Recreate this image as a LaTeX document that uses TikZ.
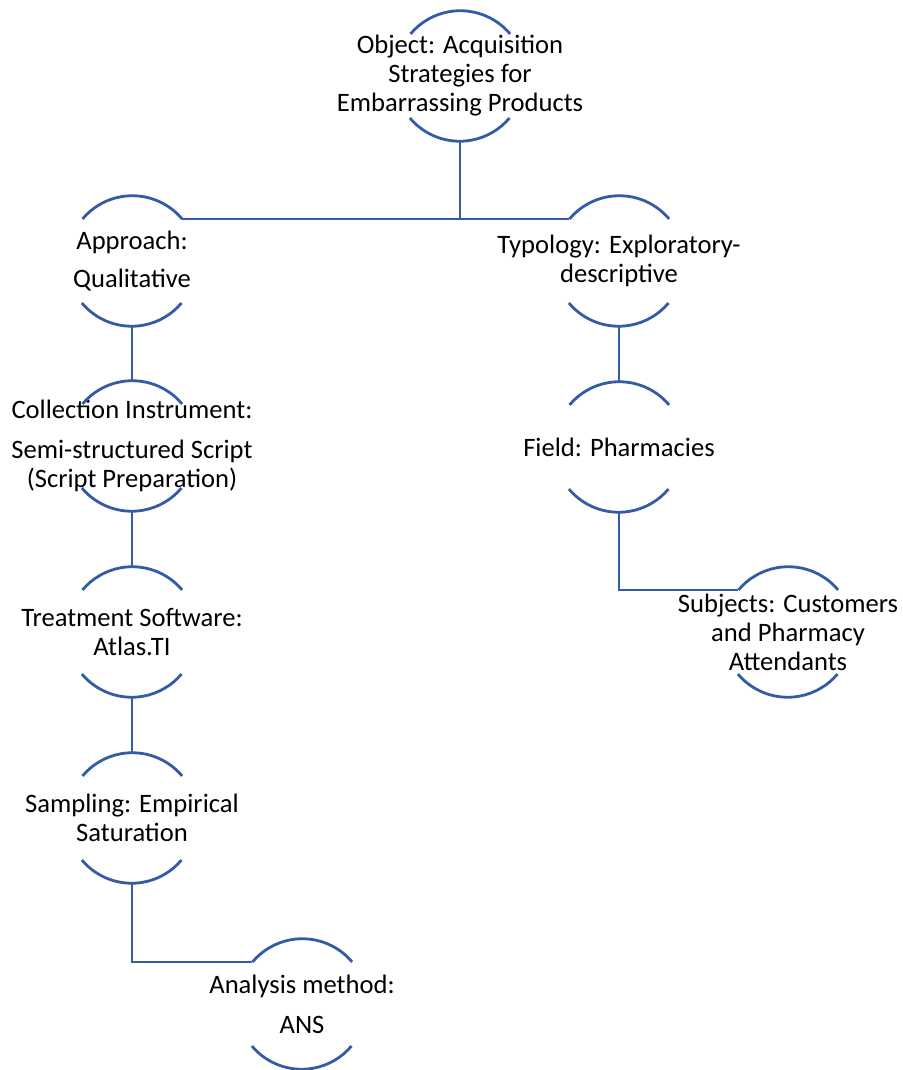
\documentclass[tikz,border=0pt]{standalone}
\usepackage{fontspec}
\setmainfont{Carlito}
\definecolor{linecolor}{RGB}{52,92,165}

\begin{document}
\begin{tikzpicture}[x=0.5pt,y=0.5pt,
  stage/.style={circle, minimum size=65pt, inner sep=0pt},
  stagetext/.style={align=center, inner sep=0pt, font=\fontsize{13.3pt}{14.5pt}\selectfont},
  link/.style={line width=1.4pt, linecolor}]
  \useasboundingbox (0,0) rectangle (902,1070);

  % Stage circles (only their arcs are drawn)
  \node[stage] (obj) at (460,994) {};
  \node[stage] (appr) at (132,809) {};
  \node[stage] (typo) at (619,809) {};
  \node[stage] (coll) at (132,624) {};
  \node[stage] (field) at (619,623) {};
  \node[stage] (treat) at (132,438) {};
  \node[stage] (subj) at (788,438) {};
  \node[stage] (samp) at (132,252) {};
  \node[stage] (anal) at (302,66) {};

  % Stage texts
  \node[stagetext] (objtext) at (obj) {Object: Acquisition\\Strategies for\\Embarrassing Products};
  \node[stagetext] (apprtext) at (appr) {Approach:\\[4.5pt]Qualitative};
  \node[stagetext] (typotext) at (typo) {Typology: Exploratory-\\descriptive};
  \node[stagetext] (colltext) at (coll) {Collection Instrument:\\[5.5pt]Semi-structured Script\\(Script Preparation)};
  \node[stagetext] (fieldtext) at (field) {Field: Pharmacies};
  \node[stagetext] (treattext) at (treat) {Treatment Software:\\Atlas.TI};
  \node[stagetext] (subjtext) at (subj) {Subjects: Customers\\and Pharmacy\\Attendants};
  \node[stagetext] (samptext) at (samp) {Sampling: Empirical\\Saturation};
  \node[stagetext] (analtext) at (anal) {Analysis method:\\[5.5pt]ANS};

  % Arcs above and below each stage
  \foreach \n in {obj,appr,typo,coll,field,treat,subj,samp,anal} {
    \draw[link] (\n.40) arc[start angle=40, end angle=140, radius=32.5pt];
    \draw[link] (\n.220) arc[start angle=220, end angle=320, radius=32.5pt];
  }

  % Connectors from the object
  \draw[link] (obj.south) -- (obj.south |- appr.40);
  \draw[link] (appr.40) -- (typo.140);

  % Left branch
  \draw[link] (appr.south) -- (coll.north);
  \draw[link] (coll.south) -- (treat.north);
  \draw[link] (treat.south) -- (samp.north);
  \draw[link] (samp.south) |- (anal.140);

  % Right branch
  \draw[link] (typo.south) -- (field.north);
  \draw[link] (field.south) |- (subj.140);
\end{tikzpicture}
\end{document}
